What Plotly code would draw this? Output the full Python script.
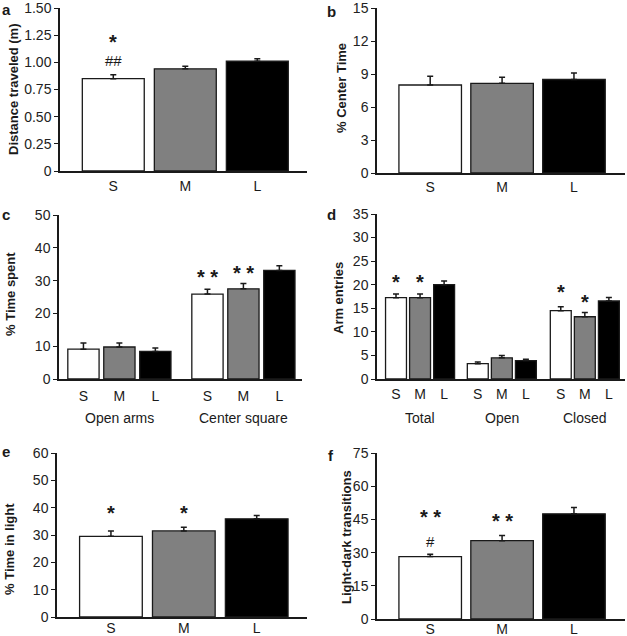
import plotly.graph_objects as go

W, H = 627, 636

# ---- data ----
cats = ["S", "M", "L"]
bar_colors = ["white", "#808080", "black"]

a_vals = [0.85, 0.94, 1.01]
a_err = [0.035, 0.024, 0.024]
a_ticks = [0, 0.25, 0.5, 0.75, 1.0, 1.25, 1.5]
a_ticktext = ["0", "0.25", "0.50", "0.75", "1.00", "1.25", "1.50"]

b_vals = [8.0, 8.15, 8.5]
b_err = [0.8, 0.55, 0.6]
b_ticks = [0, 3, 6, 9, 12, 15]

c_groups = ["Open arms", "Center square"]
c_vals = [9.1, 9.75, 8.4, 25.9, 27.5, 33.1]
c_err = [1.9, 1.25, 1.05, 1.5, 1.6, 1.4]
c_ticks = [0, 10, 20, 30, 40, 50]

d_groups = ["Total", "Open", "Closed"]
d_vals = [17.25, 17.25, 20.0, 3.25, 4.5, 3.9, 14.5, 13.2, 16.55]
d_err = [0.8, 0.8, 0.8, 0.35, 0.5, 0.3, 0.85, 0.9, 0.75]
d_ticks = [0, 5, 10, 15, 20, 25, 30, 35]

e_vals = [29.5, 31.5, 35.9]
e_err = [2.0, 1.3, 1.2]
e_ticks = [0, 10, 20, 30, 40, 50, 60]

f_vals = [28.2, 35.4, 47.5]
f_err = [1.1, 2.3, 2.9]
f_ticks = [0, 15, 30, 45, 60, 75]

# ---- layout helpers ----
def px_x(p):
    return p / W

def px_y(p):
    return 1 - p / H

FONT = "Liberation Sans, Arial, sans-serif"
INK = "#1a1a1a"

fig = go.Figure()
layout = dict(
    width=W, height=H, margin=dict(l=0, r=0, t=0, b=0, pad=0),
    paper_bgcolor="white", plot_bgcolor="white", showlegend=False,
    font=dict(family=FONT, size=14, color=INK),
)
annotations = []

def add_panel(idx, xs, vals, errs, colors, xdom, ydom, xrange, yrange,
              yticks, yticktext, ticktext, barw, xstand):
    xa = "x" if idx == 1 else f"x{idx}"
    ya = "y" if idx == 1 else f"y{idx}"
    fig.add_trace(go.Bar(
        x=xs, y=vals, width=barw, xaxis=xa, yaxis=ya,
        marker=dict(color=colors, line=dict(color=INK, width=1.3)),
        error_y=dict(type="data", array=errs, arrayminus=[0] * len(errs),
                     symmetric=False, color=INK, thickness=1.5, width=3),
    ))
    kx = "xaxis" if idx == 1 else f"xaxis{idx}"
    ky = "yaxis" if idx == 1 else f"yaxis{idx}"
    layout[kx] = dict(
        domain=[px_x(xdom[0]), px_x(xdom[1])], anchor=ya, range=xrange,
        showgrid=False, zeroline=False, showline=True, linecolor=INK, linewidth=1.5,
        tickvals=xs, ticktext=ticktext, ticks="outside", ticklen=2,
        tickcolor="rgba(0,0,0,0)", tickfont=dict(size=14, color=INK),
        ticklabelstandoff=xstand, ticklabeloverflow="allow",
        automargin=False, fixedrange=True,
    )
    layout[ky] = dict(
        domain=[px_y(ydom[1]), px_y(ydom[0])], anchor=xa, range=yrange,
        showgrid=False, zeroline=False, showline=True, linecolor=INK, linewidth=1.5,
        tickvals=yticks, ticktext=yticktext, ticks="outside", ticklen=4,
        tickcolor=INK, tickwidth=1.2, tickfont=dict(size=14, color="#222"),
        ticklabeloverflow="allow", automargin=False, fixedrange=True,
    )
    return xa, ya

def ytitle(text, cx, cy):
    annotations.append(dict(text=f"<b>{text}</b>", x=px_x(cx), y=px_y(cy),
                            xref="paper", yref="paper", showarrow=False,
                            textangle=-90, font=dict(size=13, color=INK),
                            xanchor="center", yanchor="middle"))

def letter(text, cx, cy):
    annotations.append(dict(text=f"<b>{text}</b>", x=px_x(cx), y=px_y(cy),
                            xref="paper", yref="paper", showarrow=False,
                            font=dict(size=15, color=INK),
                            xanchor="center", yanchor="middle"))

def mark(text, xa, ya, x, y, size=20, bold=True):
    t = f"<b>{text}</b>" if bold else text
    annotations.append(dict(text=t, x=x, y=y, xref=xa, yref=ya, showarrow=False,
                            font=dict(size=size, color=INK),
                            xanchor="center", yanchor="middle"))

def group_label(text, xa, x, cy):
    annotations.append(dict(text=text, x=x, y=px_y(cy), xref=xa, yref="paper",
                            showarrow=False, font=dict(size=14, color=INK),
                            xanchor="center", yanchor="middle"))

# Panel a
xs3 = [0, 1, 2]
xa, ya = add_panel(1, xs3, a_vals, a_err, bar_colors, (60, 307), (8, 171),
                   [-0.74, 2.69], [0, 1.5], a_ticks, a_ticktext, cats, 0.86, -1)
ytitle("Distance traveled (m)", 13, 89)
letter("a", 6, 9)
mark("*", xa, ya, 0, 1.19)
mark("##", xa, ya, 0, 1.02, size=15, bold=False)

# Panel b
xa, ya = add_panel(2, xs3, b_vals, b_err, bar_colors, (377, 625), (8, 173),
                   [-0.74, 2.71], [0, 15], b_ticks, [str(t) for t in b_ticks], cats, 0.87, -2)
ytitle("% Center Time", 342, 88)
letter("b", 332, 11)

# Panel c
xs_c = [0, 1, 2, 3.45, 4.45, 5.45]
xa, ya = add_panel(3, xs_c, c_vals, c_err, bar_colors * 2, (59, 302), (215, 379),
                   [-0.68, 6.08], [0, 50], c_ticks, [str(t) for t in c_ticks], cats * 2, 0.87, 1)
ytitle("% Time spent", 10, 294)
letter("c", 6, 214)
mark("* *", xa, ya, 3.45, 31.0)
mark("* *", xa, ya, 4.45, 32.2)
group_label(c_groups[0], xa, 1, 418)
group_label(c_groups[1], xa, 4.45, 418)

# Panel d
xs_d = [0, 1, 2, 3.4, 4.4, 5.4, 6.85, 7.85, 8.85]
xa, ya = add_panel(4, xs_d, d_vals, d_err, bar_colors * 3, (377, 625), (214, 379),
                   [-0.79, 9.52], [0, 35], d_ticks, [str(t) for t in d_ticks], cats * 3, 0.87, -1)
ytitle("Arm entries", 338, 298)
letter("d", 332, 214)
mark("*", xa, ya, 0, 20.6)
mark("*", xa, ya, 1, 20.6)
mark("*", xa, ya, 6.85, 18.5)
mark("*", xa, ya, 7.85, 16.4)
group_label(d_groups[0], xa, 1, 418)
group_label(d_groups[1], xa, 4.4, 418)
group_label(d_groups[2], xa, 7.85, 418)

# Panel e
xa, ya = add_panel(5, xs3, e_vals, e_err, bar_colors, (57, 307), (453, 617),
                   [-0.74, 2.69], [0, 60], e_ticks, [str(t) for t in e_ticks], cats, 0.86, -5)
ytitle("% Time in light", 9, 549)
letter("e", 6, 452)
mark("*", xa, ya, 0, 38.0)
mark("*", xa, ya, 1, 38.0)

# Panel f
xa, ya = add_panel(6, xs3, f_vals, f_err, bar_colors, (377, 625), (453, 619),
                   [-0.74, 2.71], [0, 75], f_ticks, [str(t) for t in f_ticks], cats, 0.87, -6)
ytitle("Light-dark transitions", 346, 537)
letter("f", 331, 455)
mark("* *", xa, ya, 0, 46.2)
mark("#", xa, ya, 0, 35.2, size=15, bold=False)
mark("* *", xa, ya, 1, 44.4)

layout["annotations"] = annotations
fig.update_layout(**layout)
fig.write_html(
    "out.html",
    config={"displayModeBar": False, "responsive": False},
    post_script="document.body.style.margin='0';document.body.style.overflow='hidden';",
)
